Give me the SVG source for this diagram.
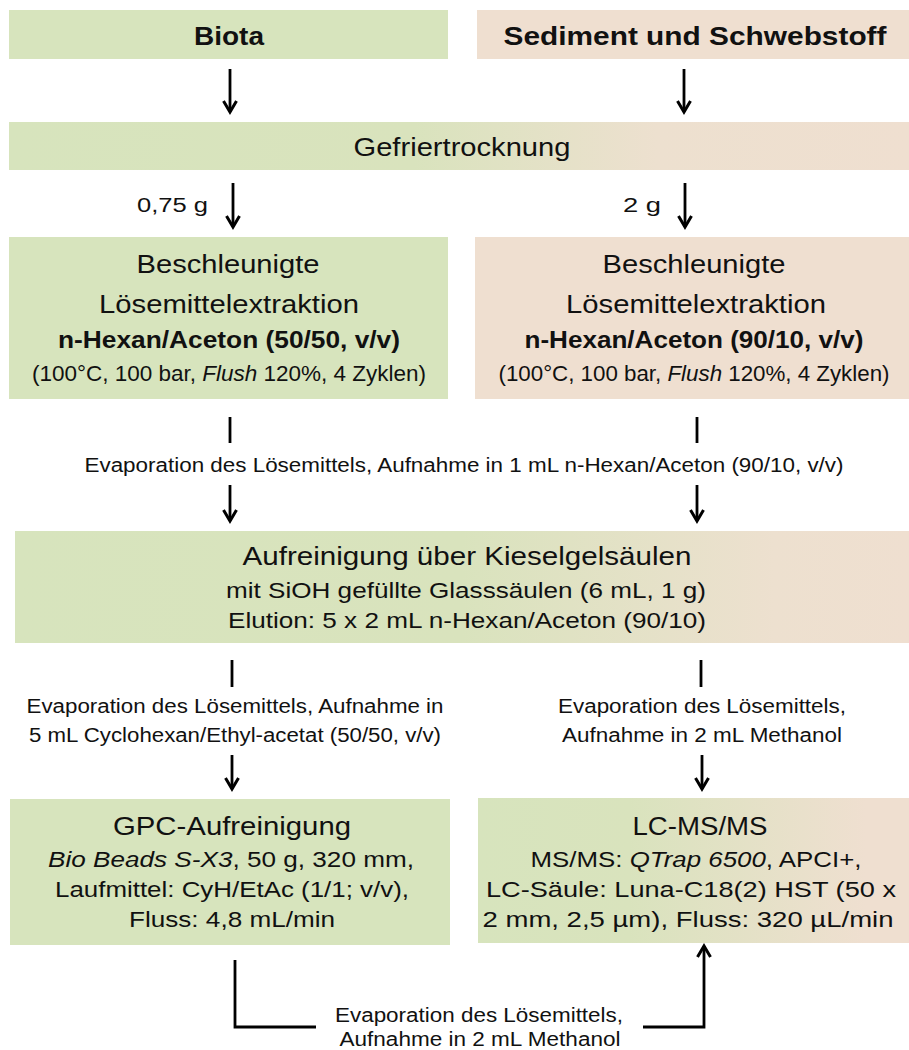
<svg xmlns="http://www.w3.org/2000/svg" width="909" height="1050" viewBox="0 0 909 1050">
<style>
text{font-family:"Liberation Sans",Arial,sans-serif;fill:#111;text-anchor:middle}
.title{font-size:26px;font-weight:bold}
.big{font-size:26px}
.bold{font-size:23px;font-weight:bold}
.mid{font-size:22px}
.small{font-size:19.5px}
.g{fill:#d7e4bd}
.p{fill:#efdfd0}
.ln{stroke:#000;stroke-width:2.8;fill:none}
.arr{stroke:#000;stroke-width:2.8;fill:none;marker-end:url(#ah)}
</style>
<defs>
<marker id="ah" viewBox="0 0 16 16" refX="13" refY="8" markerWidth="16" markerHeight="16" markerUnits="userSpaceOnUse" orient="auto">
<path d="M2,1.5 L13,8 L2,14.5" fill="none" stroke="#000" stroke-width="3"/>
</marker>
<linearGradient id="gGef" x1="0" y1="0" x2="1" y2="0">
<stop offset="0" stop-color="#d7e4bd"/><stop offset="0.45" stop-color="#d9e3bd"/><stop offset="0.72" stop-color="#ede0cf"/><stop offset="1" stop-color="#efdfd0"/>
</linearGradient>
<linearGradient id="gKie" x1="0" y1="0" x2="1" y2="0">
<stop offset="0" stop-color="#d7e4bd"/><stop offset="0.5" stop-color="#d9e3bd"/><stop offset="0.85" stop-color="#ede0cf"/><stop offset="1" stop-color="#efdfd0"/>
</linearGradient>
<linearGradient id="gLC" x1="0" y1="0" x2="1" y2="0">
<stop offset="0" stop-color="#d7e4bd"/><stop offset="0.35" stop-color="#d9e3bd"/><stop offset="0.9" stop-color="#efdfd0"/><stop offset="1" stop-color="#efdfd0"/>
</linearGradient>
</defs>

<g id="biota">
<rect class="g" x="9" y="10" width="439" height="49"/>
<text class="title" x="229" y="45" textLength="70" lengthAdjust="spacingAndGlyphs">Biota</text>
</g>
<g id="sediment">
<rect class="p" x="477" y="10" width="432" height="49"/>
<text class="title" x="695" y="45" textLength="383" lengthAdjust="spacingAndGlyphs">Sediment und Schwebstoff</text>
</g>
<g id="gefrier">
<rect fill="url(#gGef)" x="9" y="122" width="900" height="48"/>
<text class="big" x="462" y="156" textLength="217" lengthAdjust="spacingAndGlyphs">Gefriertrocknung</text>
</g>
<g id="ase-biota">
<rect class="g" x="9" y="237" width="439" height="162"/>
<text class="big" x="228" y="273" textLength="183" lengthAdjust="spacingAndGlyphs">Beschleunigte</text>
<text class="big" x="229" y="313" textLength="260" lengthAdjust="spacingAndGlyphs">Lösemittelextraktion</text>
<text class="bold" x="229" y="348" textLength="342" lengthAdjust="spacingAndGlyphs">n-Hexan/Aceton (50/50, v/v)</text>
<text class="mid" x="229" y="381" textLength="394" lengthAdjust="spacingAndGlyphs">(100°C, 100 bar, <tspan font-style="italic">Flush</tspan> 120%, 4 Zyklen)</text>
</g>
<g id="ase-sediment">
<rect class="p" x="475" y="237" width="434" height="162"/>
<text class="big" x="694" y="273" textLength="183" lengthAdjust="spacingAndGlyphs">Beschleunigte</text>
<text class="big" x="696" y="313" textLength="260" lengthAdjust="spacingAndGlyphs">Lösemittelextraktion</text>
<text class="bold" x="694" y="348" textLength="339" lengthAdjust="spacingAndGlyphs">n-Hexan/Aceton (90/10, v/v)</text>
<text class="mid" x="694" y="381" textLength="391" lengthAdjust="spacingAndGlyphs">(100°C, 100 bar, <tspan font-style="italic">Flush</tspan> 120%, 4 Zyklen)</text>
</g>
<g id="kieselgel">
<rect fill="url(#gKie)" x="15" y="531" width="894" height="112"/>
<text class="big" x="467" y="565" textLength="449" lengthAdjust="spacingAndGlyphs">Aufreinigung über Kieselgelsäulen</text>
<text class="mid" x="466" y="598" textLength="480" lengthAdjust="spacingAndGlyphs">mit SiOH gefüllte Glasssäulen (6 mL, 1 g)</text>
<text class="mid" x="467" y="628" textLength="478" lengthAdjust="spacingAndGlyphs">Elution: 5 x 2 mL n-Hexan/Aceton (90/10)</text>
</g>
<g id="gpc">
<rect class="g" x="10" y="799" width="440" height="146"/>
<text class="big" x="232" y="835" textLength="238" lengthAdjust="spacingAndGlyphs">GPC-Aufreinigung</text>
<text class="mid" x="231" y="867" textLength="366" lengthAdjust="spacingAndGlyphs"><tspan font-style="italic">Bio Beads S-X3</tspan>, 50 g, 320 mm,</text>
<text class="mid" x="232" y="897" textLength="354" lengthAdjust="spacingAndGlyphs">Laufmittel: CyH/EtAc (1/1; v/v),</text>
<text class="mid" x="232" y="927" textLength="206" lengthAdjust="spacingAndGlyphs">Fluss: 4,8 mL/min</text>
</g>
<g id="lcms">
<rect fill="url(#gLC)" x="478" y="798" width="431" height="145"/>
<text class="big" x="700" y="835" textLength="135" lengthAdjust="spacingAndGlyphs">LC-MS/MS</text>
<text class="mid" x="696" y="867" textLength="331" lengthAdjust="spacingAndGlyphs">MS/MS: <tspan font-style="italic">QTrap 6500</tspan>, APCI+,</text>
<text class="mid" x="691" y="897" textLength="410" lengthAdjust="spacingAndGlyphs">LC-Säule: Luna-C18(2) HST (50 x</text>
<text class="mid" x="688" y="927" textLength="411" lengthAdjust="spacingAndGlyphs">2 mm, 2,5 µm), Fluss: 320 µL/min</text>
</g>

<g id="connectors">
<line class="arr" x1="230" y1="69" x2="230" y2="112"/>
<line class="arr" x1="684" y1="69" x2="684" y2="112"/>
<line class="arr" x1="233" y1="183" x2="233" y2="227"/>
<line class="arr" x1="685" y1="183" x2="685" y2="227"/>
<line class="ln" x1="230" y1="417" x2="230" y2="443"/>
<line class="ln" x1="697" y1="417" x2="697" y2="443"/>
<line class="arr" x1="230" y1="485" x2="230" y2="521"/>
<line class="arr" x1="697" y1="485" x2="697" y2="521"/>
<line class="ln" x1="232" y1="660" x2="232" y2="687"/>
<line class="ln" x1="701" y1="660" x2="701" y2="687"/>
<line class="arr" x1="232" y1="755" x2="232" y2="789"/>
<line class="arr" x1="702" y1="755" x2="702" y2="789"/>
<polyline class="ln" points="235,960 235,1027 316,1027"/>
<polyline class="arr" points="643,1027 704,1027 704,946"/>
</g>

<g id="labels">
<text class="small" x="137" y="212" style="text-anchor:start;font-size:20.5px" textLength="71" lengthAdjust="spacingAndGlyphs">0,75 g</text>
<text class="small" x="623" y="212" style="text-anchor:start;font-size:20.5px" textLength="38" lengthAdjust="spacingAndGlyphs">2 g</text>
<text class="small" x="464" y="472" textLength="759" lengthAdjust="spacingAndGlyphs">Evaporation des Lösemittels, Aufnahme in 1 mL n-Hexan/Aceton (90/10, v/v)</text>
<text class="small" x="235" y="713" textLength="417" lengthAdjust="spacingAndGlyphs">Evaporation des Lösemittels, Aufnahme in</text>
<text class="small" x="235" y="742" textLength="412" lengthAdjust="spacingAndGlyphs">5 mL Cyclohexan/Ethyl-acetat (50/50, v/v)</text>
<text class="small" x="702" y="713" textLength="288" lengthAdjust="spacingAndGlyphs">Evaporation des Lösemittels,</text>
<text class="small" x="702" y="742" textLength="280" lengthAdjust="spacingAndGlyphs">Aufnahme in 2 mL Methanol</text>
<text class="small" x="479" y="1022" textLength="288" lengthAdjust="spacingAndGlyphs">Evaporation des Lösemittels,</text>
<text class="small" x="480" y="1046" textLength="281" lengthAdjust="spacingAndGlyphs">Aufnahme in 2 mL Methanol</text>
</g>
</svg>
